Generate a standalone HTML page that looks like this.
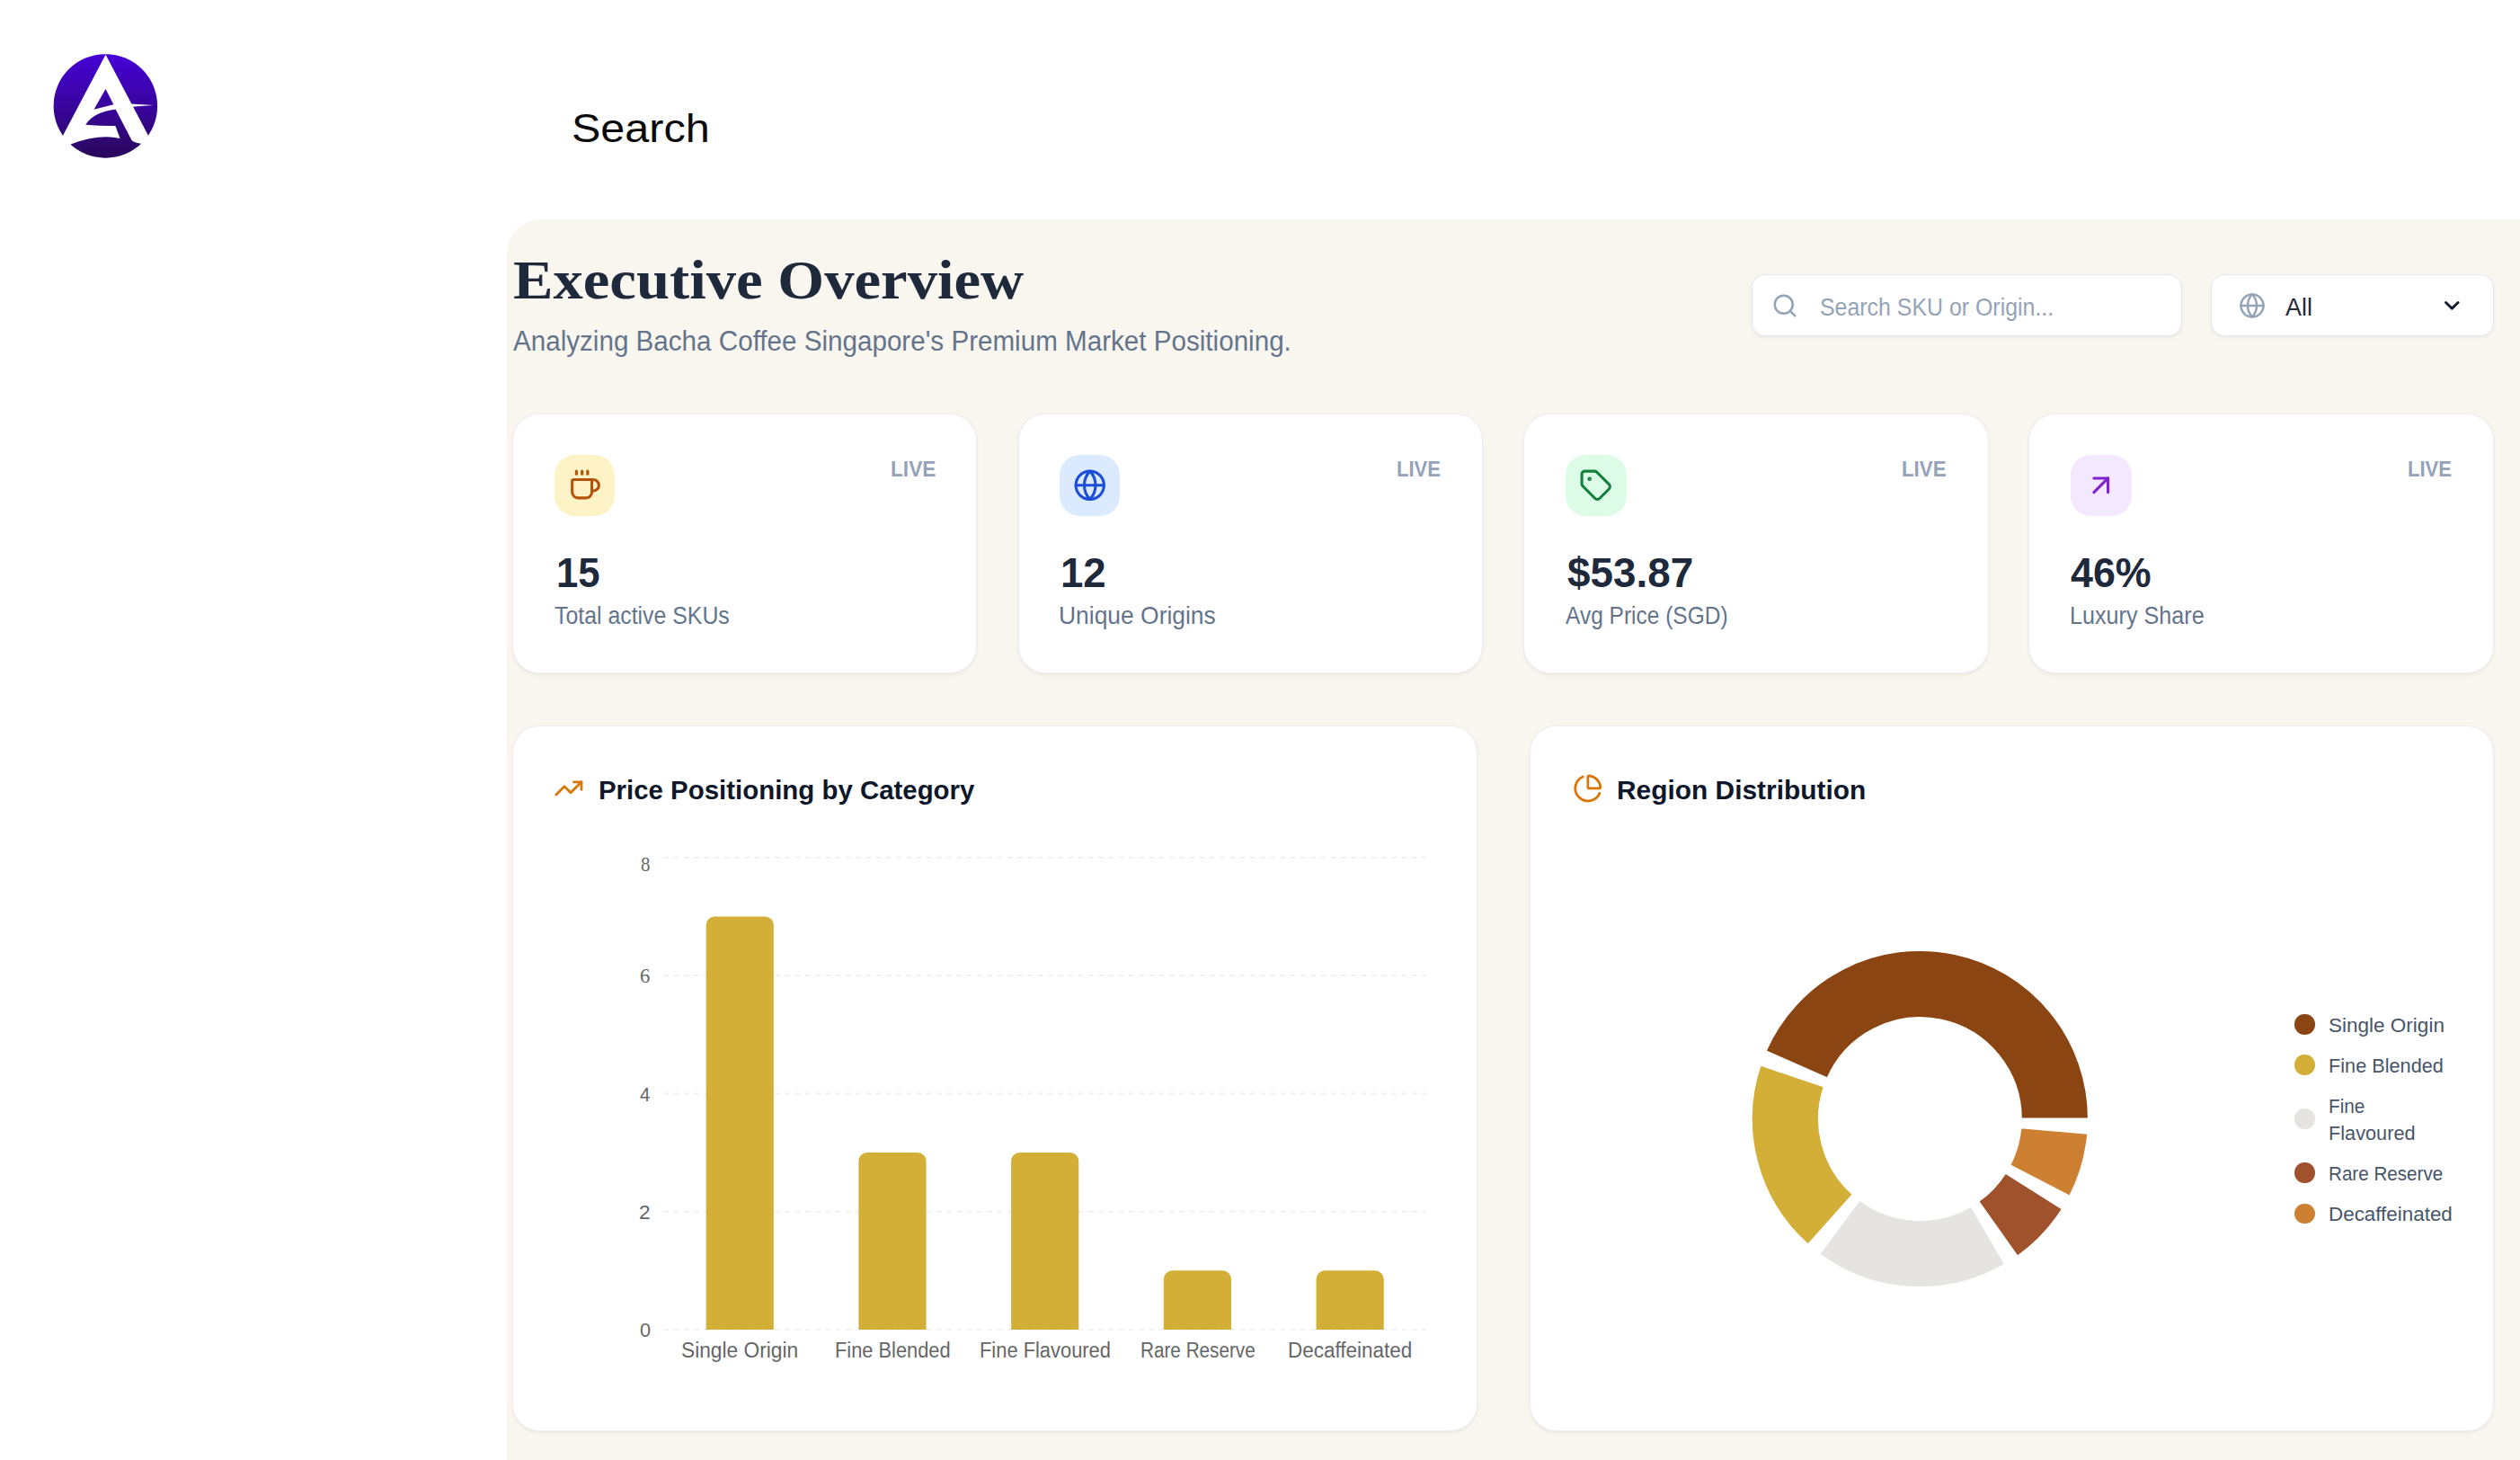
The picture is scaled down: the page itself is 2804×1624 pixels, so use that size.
<!DOCTYPE html>
<html lang="en"><head><meta charset="utf-8"><title>Executive Overview</title>
<style>
html,body{margin:0;padding:0;background:#fff}
body{width:2804px;height:1624px;position:relative;overflow:hidden;font-family:"Liberation Sans", sans-serif}
.tx{position:absolute;white-space:nowrap;transform-origin:0 0;margin:0;padding:0}
.f-sans{font-family:"Liberation Sans", sans-serif}
.f-serif{font-family:"Liberation Serif", serif}
.ic{position:absolute;overflow:visible}
.panel{position:absolute;left:564px;top:244px;width:2300px;height:1500px;background:#f9f6f0;border-top-left-radius:37.5px}
.card{position:absolute;background:#fff;box-sizing:border-box;border:1.9px solid #eceff3;box-shadow:0 1.9px 3.75px rgba(0,0,0,.06)}
.inp{position:absolute;background:#fff;box-sizing:border-box;border:1.9px solid #e2e8f0;border-radius:15px;box-shadow:0 2px 4px rgba(0,0,0,.05)}
.ib{position:absolute;width:67.5px;height:67.5px;border-radius:22.5px}
.dot{position:absolute;width:22.5px;height:22.5px;border-radius:50%}
</style></head><body>

<svg class="ic" style="left:0;top:0" width="240" height="240" viewBox="0 0 240 240">
<defs>
<linearGradient id="lg" gradientUnits="userSpaceOnUse" x1="0" y1="257" x2="0" y2="1253">
<stop offset="0" stop-color="#4602d6"/><stop offset="0.45" stop-color="#3a04a4"/><stop offset="1" stop-color="#29085a"/>
</linearGradient>
<clipPath id="lc"><circle cx="750.5" cy="755" r="496"/></clipPath><clipPath id="lc2"><circle cx="750.5" cy="755" r="520"/></clipPath>
</defs>
<g transform="translate(30,30) scale(0.11641)">
<circle cx="750.5" cy="755" r="496" fill="url(#lg)"/>
<g clip-path="url(#lc2)">
<path d="M752 265 L227 1259.5 L1276 1259.5 Z" fill="#fff"/>
</g>
<g clip-path="url(#lc)">
<path d="M985 735 L1210 748 L1005 762 Z" fill="#fff"/>
<path d="M752 592 L640 788 L828 740 Z" fill="url(#lg)"/>
<path d="M848 788 C752 797 622 834 560 935 Q700 946 845 945 L890 1065 Q690 1018 418 1120 L380 1300 L1120 1300 L1090 1115 Q1012 1100 1000 1080 Z" fill="url(#lg)"/>
</g>
</g>
</svg>
<div class="panel"></div>
<div class="inp" style="left:1949.4px;top:304.8px;width:479px;height:68.8px"></div>
<div class="inp" style="left:2460.2px;top:304.8px;width:314.9px;height:68.8px"></div>
<svg class="ic" style="left:1971.2px;top:324.6px;color:#94a3b8" width="30" height="30" viewBox="0 0 24 24" fill="none" stroke="currentColor" stroke-width="2" stroke-linecap="round" stroke-linejoin="round"><path d="m21 21-4.34-4.34"/><circle cx="11" cy="11" r="8"/></svg>
<svg class="ic" style="left:2490.75px;top:324.55px;color:#94a3b8" width="30" height="30" viewBox="0 0 24 24" fill="none" stroke="currentColor" stroke-width="2" stroke-linecap="round" stroke-linejoin="round"><circle cx="12" cy="12" r="10"/><path d="M12 2a14.5 14.5 0 0 0 0 20 14.5 14.5 0 0 0 0-20"/><path d="M2 12h20"/></svg>
<svg class="ic" style="left:2718px;top:330px" width="22" height="20" viewBox="0 0 22 20"><path d="M3.5 6.5 L10.3 13.1 L17.1 6.5" fill="none" stroke="#131b2e" stroke-width="2.9" stroke-linecap="round" stroke-linejoin="round"/></svg>
<div class="card" style="left:570.3px;top:459.7px;width:517.1px;height:289.6px;border-radius:30px"></div>
<div class="ib" style="left:616.9px;top:506.2px;background:#fef3c7"></div>
<svg class="ic" style="left:631.9px;top:521.2px;color:#b45309" width="37.5" height="37.5" viewBox="0 0 24 24" fill="none" stroke="currentColor" stroke-width="2" stroke-linecap="round" stroke-linejoin="round"><path d="M10 2v2"/><path d="M14 2v2"/><path d="M16 8a1 1 0 0 1 1 1v8a4 4 0 0 1-4 4H7a4 4 0 0 1-4-4V9a1 1 0 0 1 1-1h14a4 4 0 1 1 0 8h-1"/><path d="M6 2v2"/></svg>
<div class="card" style="left:1133.0px;top:459.7px;width:517.0px;height:289.6px;border-radius:30px"></div>
<div class="ib" style="left:1178.9px;top:506.2px;background:#dbeafe"></div>
<svg class="ic" style="left:1193.9px;top:521.2px;color:#1d4ed8" width="37.5" height="37.5" viewBox="0 0 24 24" fill="none" stroke="currentColor" stroke-width="2" stroke-linecap="round" stroke-linejoin="round"><circle cx="12" cy="12" r="10"/><path d="M12 2a14.5 14.5 0 0 0 0 20 14.5 14.5 0 0 0 0-20"/><path d="M2 12h20"/></svg>
<div class="card" style="left:1695.4px;top:459.7px;width:517.2px;height:289.6px;border-radius:30px"></div>
<div class="ib" style="left:1742.2px;top:506.2px;background:#dcfce7"></div>
<svg class="ic" style="left:1757.2px;top:521.2px;color:#15803d" width="37.5" height="37.5" viewBox="0 0 24 24" fill="none" stroke="currentColor" stroke-width="2" stroke-linecap="round" stroke-linejoin="round"><path d="M12.586 2.586A2 2 0 0 0 11.172 2H4a2 2 0 0 0-2 2v7.172a2 2 0 0 0 .586 1.414l8.704 8.704a2.426 2.426 0 0 0 3.42 0l6.58-6.58a2.426 2.426 0 0 0 0-3.42z"/><circle cx="7.5" cy="7.5" r=".5" fill="currentColor"/></svg>
<div class="card" style="left:2257.3px;top:459.7px;width:517.7px;height:289.6px;border-radius:30px"></div>
<div class="ib" style="left:2304.4px;top:506.2px;background:#f3e8ff"></div>
<svg class="ic" style="left:2319.4px;top:521.2px;color:#7e22ce" width="37.5" height="37.5" viewBox="0 0 24 24" fill="none" stroke="currentColor" stroke-width="2" stroke-linecap="round" stroke-linejoin="round"><path d="M7 7h10v10"/><path d="M7 17 17 7"/></svg>
<div class="card" style="left:570.3px;top:806.6px;width:1073.4px;height:785.2px;border-radius:30px"></div>
<div class="card" style="left:1702.4px;top:806.6px;width:1072.7px;height:785.2px;border-radius:30px"></div>
<svg class="ic" style="left:616.35px;top:859.9px;color:#d97706" width="33.75" height="33.75" viewBox="0 0 24 24" fill="none" stroke="currentColor" stroke-width="2" stroke-linecap="round" stroke-linejoin="round"><path d="M16 7h6v6"/><path d="m22 7-8.5 8.5-5-5L2 17"/></svg>
<svg class="ic" style="left:1750.05px;top:860.3px;color:#d97706" width="33.75" height="33.75" viewBox="0 0 24 24" fill="none" stroke="currentColor" stroke-width="2" stroke-linecap="round" stroke-linejoin="round"><path d="M21 12c.552 0 1.005-.449.95-.998a10 10 0 0 0-8.953-8.951c-.55-.055-.998.398-.998.95v8a1 1 0 0 0 1 1z"/><path d="M21.21 15.89A10 10 0 1 1 8 2.83"/></svg>
<svg class="ic" style="left:0;top:0" width="2804" height="1624" viewBox="0 0 2804 1624">
<line x1="738.4" x2="1587" y1="953.8" y2="953.8" stroke="#efefef" stroke-width="1.7" stroke-dasharray="5.625 5.625"/>
<line x1="738.4" x2="1587" y1="1085.1" y2="1085.1" stroke="#efefef" stroke-width="1.7" stroke-dasharray="5.625 5.625"/>
<line x1="738.4" x2="1587" y1="1216.4" y2="1216.4" stroke="#efefef" stroke-width="1.7" stroke-dasharray="5.625 5.625"/>
<line x1="738.4" x2="1587" y1="1347.7" y2="1347.7" stroke="#efefef" stroke-width="1.7" stroke-dasharray="5.625 5.625"/>
<line x1="738.4" x2="1587" y1="1479.0" y2="1479.0" stroke="#efefef" stroke-width="1.7" stroke-dasharray="5.625 5.625"/>
<path fill="#D4AF37" d="M785.66 1479.00 L785.66 1029.05 A9.6 9.6 0 0 1 795.26 1019.45 L851.26 1019.45 A9.6 9.6 0 0 1 860.86 1029.05 L860.86 1479.00 Z"/>
<path fill="#D4AF37" d="M955.38 1479.00 L955.38 1291.65 A9.6 9.6 0 0 1 964.98 1282.05 L1020.98 1282.05 A9.6 9.6 0 0 1 1030.58 1291.65 L1030.58 1479.00 Z"/>
<path fill="#D4AF37" d="M1125.10 1479.00 L1125.10 1291.65 A9.6 9.6 0 0 1 1134.70 1282.05 L1190.70 1282.05 A9.6 9.6 0 0 1 1200.30 1291.65 L1200.30 1479.00 Z"/>
<path fill="#D4AF37" d="M1294.82 1479.00 L1294.82 1422.95 A9.6 9.6 0 0 1 1304.42 1413.35 L1360.42 1413.35 A9.6 9.6 0 0 1 1370.02 1422.95 L1370.02 1479.00 Z"/>
<path fill="#D4AF37" d="M1464.54 1479.00 L1464.54 1422.95 A9.6 9.6 0 0 1 1474.14 1413.35 L1530.14 1413.35 A9.6 9.6 0 0 1 1539.74 1422.95 L1539.74 1479.00 Z"/>
<path fill="#8B4513" stroke="#fff" stroke-width="1.875" d="M2323.90 1244.50 A187.5 187.5 0 0 0 1964.67 1169.23 L2033.36 1199.34 A112.5 112.5 0 0 1 2248.90 1244.50 Z"/>
<path fill="#D4AF37" stroke="#fff" stroke-width="1.875" d="M1958.76 1184.49 A187.5 187.5 0 0 0 2011.75 1384.57 L2061.61 1328.54 A112.5 112.5 0 0 1 2029.82 1208.49 Z"/>
<path fill="#E5E4E2" stroke="#fff" stroke-width="1.875" d="M2024.43 1394.90 A187.5 187.5 0 0 0 2231.09 1406.33 L2193.22 1341.60 A112.5 112.5 0 0 1 2069.22 1334.74 Z"/>
<path fill="#A0522D" stroke="#fff" stroke-width="1.875" d="M2244.84 1397.46 A187.5 187.5 0 0 0 2294.83 1344.78 L2231.46 1304.67 A112.5 112.5 0 0 1 2201.46 1336.28 Z"/>
<path fill="#CD7F32" stroke="#fff" stroke-width="1.875" d="M2302.97 1330.59 A187.5 187.5 0 0 0 2323.19 1260.84 L2248.47 1254.31 A112.5 112.5 0 0 1 2236.34 1296.16 Z"/>
</svg>
<div class="dot" style="left:2553.2px;top:1128.25px;background:#8B4513"></div>
<div class="dot" style="left:2553.2px;top:1173.45px;background:#D4AF37"></div>
<div class="dot" style="left:2553.2px;top:1233.25px;background:#E5E4E2"></div>
<div class="dot" style="left:2553.2px;top:1293.45px;background:#A0522D"></div>
<div class="dot" style="left:2553.2px;top:1338.75px;background:#CD7F32"></div>
<div class="tx f-sans" style="left:635.84px;top:117.00px;font-size:45px;line-height:51.00px;font-weight:400;color:#0a0a0a;transform:scaleX(1.0783)">Search</div>
<div class="tx f-serif" style="left:570.71px;top:277.90px;font-size:61px;line-height:67.00px;font-weight:700;color:#1e293b;transform:scaleX(1.0927)">Executive Overview</div>
<div class="tx f-sans" style="left:570.70px;top:361.60px;font-size:31px;line-height:35.00px;font-weight:400;color:#64748b;transform:scaleX(0.9551)">Analyzing Bacha Coffee Singapore's Premium Market Positioning.</div>
<div class="tx f-sans" style="left:2025.09px;top:325.80px;font-size:27.3px;line-height:31.00px;font-weight:400;color:#94a3b8;transform:scaleX(0.9122)">Search SKU or Origin...</div>
<div class="tx f-sans" style="left:2543.30px;top:327.00px;font-size:27px;line-height:30.00px;font-weight:400;color:#1e293b;transform:scaleX(0.9963)">All</div>
<div class="tx f-sans" style="left:990.71px;top:508.80px;font-size:23px;line-height:26.00px;font-weight:700;color:#94a3b8;transform:scaleX(0.9863)">LIVE</div>
<div class="tx f-sans" style="left:1553.84px;top:508.80px;font-size:23px;line-height:26.00px;font-weight:700;color:#94a3b8;transform:scaleX(0.9582)">LIVE</div>
<div class="tx f-sans" style="left:2115.83px;top:508.80px;font-size:23px;line-height:26.00px;font-weight:700;color:#94a3b8;transform:scaleX(0.9683)">LIVE</div>
<div class="tx f-sans" style="left:2678.64px;top:508.80px;font-size:23px;line-height:26.00px;font-weight:700;color:#94a3b8;transform:scaleX(0.9582)">LIVE</div>
<div class="tx f-sans" style="left:618.71px;top:610.90px;font-size:46.4px;line-height:52.00px;font-weight:700;color:#1e293b;transform:scaleX(0.9426)">15</div>
<div class="tx f-sans" style="left:1180.23px;top:610.90px;font-size:46.4px;line-height:52.00px;font-weight:700;color:#1e293b;transform:scaleX(0.9833)">12</div>
<div class="tx f-sans" style="left:1743.50px;top:610.90px;font-size:46.4px;line-height:52.00px;font-weight:700;color:#1e293b;transform:scaleX(0.9879)">$53.87</div>
<div class="tx f-sans" style="left:2304.40px;top:610.90px;font-size:46.4px;line-height:52.00px;font-weight:700;color:#1e293b;transform:scaleX(0.9654)">46%</div>
<div class="tx f-sans" style="left:617.20px;top:668.90px;font-size:27.3px;line-height:31.00px;font-weight:400;color:#64748b;transform:scaleX(0.9106)">Total active SKUs</div>
<div class="tx f-sans" style="left:1178.26px;top:668.90px;font-size:27.3px;line-height:31.00px;font-weight:400;color:#64748b;transform:scaleX(0.9680)">Unique Origins</div>
<div class="tx f-sans" style="left:1742.20px;top:668.90px;font-size:27.3px;line-height:31.00px;font-weight:400;color:#64748b;transform:scaleX(0.8974)">Avg Price (SGD)</div>
<div class="tx f-sans" style="left:2303.16px;top:668.90px;font-size:27.3px;line-height:31.00px;font-weight:400;color:#64748b;transform:scaleX(0.9223)">Luxury Share</div>
<div class="tx f-sans" style="left:665.96px;top:862.00px;font-size:30.3px;line-height:33.00px;font-weight:700;color:#0f172a;transform:scaleX(0.9708)">Price Positioning by Category</div>
<div class="tx f-sans" style="left:1798.63px;top:862.00px;font-size:30.3px;line-height:33.00px;font-weight:700;color:#0f172a;transform:scaleX(0.9865)">Region Distribution</div>
<div class="tx f-sans" style="left:758.22px;top:1488.90px;font-size:23.3px;line-height:26.00px;font-weight:400;color:#666666;transform:scaleX(0.9755)">Single Origin</div>
<div class="tx f-sans" style="left:928.76px;top:1488.90px;font-size:23.3px;line-height:26.00px;font-weight:400;color:#666666;transform:scaleX(0.9362)">Fine Blended</div>
<div class="tx f-sans" style="left:1089.56px;top:1488.90px;font-size:23.3px;line-height:26.00px;font-weight:400;color:#666666;transform:scaleX(0.9392)">Fine Flavoured</div>
<div class="tx f-sans" style="left:1268.51px;top:1488.90px;font-size:23.3px;line-height:26.00px;font-weight:400;color:#666666;transform:scaleX(0.8888)">Rare Reserve</div>
<div class="tx f-sans" style="left:1432.84px;top:1488.90px;font-size:23.3px;line-height:26.00px;font-weight:400;color:#666666;transform:scaleX(0.9647)">Decaffeinated</div>
<div class="tx f-serif" style="left:712.60px;top:948.20px;font-size:24px;line-height:26.00px;font-weight:400;color:#666666;transform:scaleX(0.8667)">8</div>
<div class="tx f-serif" style="left:711.65px;top:1071.80px;font-size:24px;line-height:26.00px;font-weight:400;color:#666666;transform:scaleX(0.9455)">6</div>
<div class="tx f-sans" style="left:711.50px;top:1203.50px;font-size:22.8px;line-height:26.00px;font-weight:400;color:#666666;transform:scaleX(0.9000)">4</div>
<div class="tx f-sans" style="left:711.31px;top:1335.00px;font-size:22.8px;line-height:26.00px;font-weight:400;color:#666666;transform:scaleX(0.9909)">2</div>
<div class="tx f-sans" style="left:711.80px;top:1466.20px;font-size:22.8px;line-height:26.00px;font-weight:400;color:#666666;transform:scaleX(0.9500)">0</div>
<div class="tx f-sans" style="left:2590.50px;top:1127.70px;font-size:22.5px;line-height:25.00px;font-weight:400;color:#475569;transform:scaleX(1.0008)">Single Origin</div>
<div class="tx f-sans" style="left:2590.54px;top:1172.90px;font-size:22.5px;line-height:25.00px;font-weight:400;color:#475569;transform:scaleX(0.9643)">Fine Blended</div>
<div class="tx f-sans" style="left:2590.58px;top:1217.70px;font-size:22.5px;line-height:25.00px;font-weight:400;color:#475569;transform:scaleX(0.9229)">Fine</div>
<div class="tx f-sans" style="left:2590.53px;top:1247.90px;font-size:22.5px;line-height:25.00px;font-weight:400;color:#475569;transform:scaleX(0.9651)">Flavoured</div>
<div class="tx f-sans" style="left:2590.58px;top:1293.20px;font-size:22.5px;line-height:25.00px;font-weight:400;color:#475569;transform:scaleX(0.9163)">Rare Reserve</div>
<div class="tx f-sans" style="left:2590.50px;top:1338.40px;font-size:22.5px;line-height:25.00px;font-weight:400;color:#475569;transform:scaleX(0.9954)">Decaffeinated</div>
</body></html>
